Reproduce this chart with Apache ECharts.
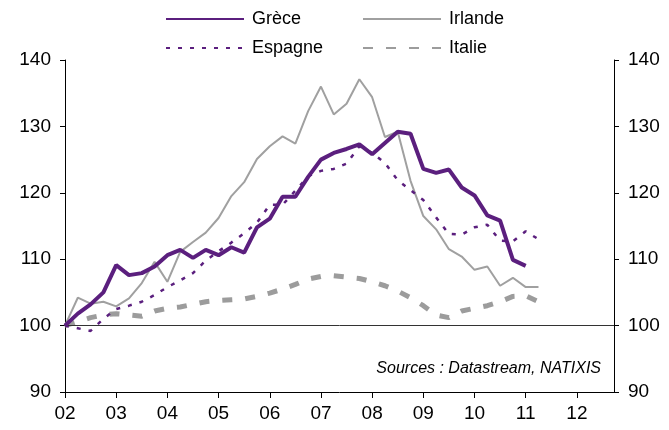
<!DOCTYPE html>
<html>
<head>
<meta charset="utf-8">
<script src="https://cdn.jsdelivr.net/npm/echarts@6/dist/echarts.min.js"></script>
<style>html,body{margin:0;padding:0;background:#fff}#c{width:669px;height:430px}</style>
</head>
<body>
<div id="c"></div>
<script>
// Quarterly index (2002 Q1 = 100), x = quarter number from 2002 Q1
var seriesNames = ['Grèce', 'Irlande', 'Espagne', 'Italie'];
var yearLabels = ['02','03','04','05','06','07','08','09','10','11','12'];
var yTicks = [90, 100, 110, 120, 130, 140];

var greece = [100, 101.8, 103.2, 105.0, 109.1, 107.6, 107.9, 108.9, 110.6, 111.4,
  110.2, 111.4, 110.6, 111.8, 111.0, 114.8, 116.1, 119.4, 119.4, 122.4,
  125.0, 126.0, 126.6, 127.3, 125.8, 127.5, 129.2, 128.9, 123.6, 123.0,
  123.5, 120.8, 119.6, 116.6, 115.8, 109.9, 109.0];
var irlande = [100, 104.2, 103.3, 103.6, 102.9, 104.1, 106.4, 109.6, 106.6, 111.1,
  112.6, 114.0, 116.2, 119.5, 121.6, 125.1, 127.0, 128.5, 127.4, 132.3,
  136.0, 131.8, 133.4, 137.1, 134.4, 128.4, 129.2, 121.8, 116.5, 114.5,
  111.5, 110.4, 108.4, 108.9, 106.0, 107.2, 105.8, 105.8];
var espagne = [100, 99.6, 99.2, 101.0, 102.5, 103.0, 103.6, 104.6, 105.8, 106.8,
  107.9, 109.8, 111.2, 112.5, 113.9, 115.5, 118.2, 118.2, 120.3, 122.5,
  123.3, 123.6, 124.4, 127.0, 126.0, 124.5, 121.9, 120.4, 118.9, 116.3,
  113.8, 113.7, 114.8, 115.2, 112.8, 112.7, 114.2, 113.0];
var italie = [100, 100.6, 101.2, 101.6, 101.8, 101.6, 101.4, 102.2, 102.6, 102.8,
  103.2, 103.6, 103.8, 103.9, 104.0, 104.4, 104.9, 105.5, 106.2, 107.0,
  107.4, 107.5, 107.3, 107.1, 106.6, 106.0, 105.2, 104.2, 103.0, 101.6,
  101.2, 102.2, 102.6, 103.0, 103.6, 104.4, 104.5, 103.6];

function pairs(arr){ return arr.map(function(v,i){ return [i, v]; }); }

var FONT = 'Liberation Sans';
var PURPLE = '#5B1F7E';
var GREY = '#A0A0A0';
var GREY2 = '#9C9C9C';

var chart = echarts.init(document.getElementById('c'), null, {renderer:'canvas'});

function leg(name, left, top){
  return {
    data: [name], left: left, top: top, padding: 0, itemGap: 0,
    itemWidth: 78, itemHeight: 14, selectedMode: false,
    itemStyle: {opacity: 0},
    textStyle: {fontFamily: FONT, fontSize: 18, color: '#000', padding: [0,0,0,3]}
  };
}

var yAxisBase = {
  type: 'value', min: yTicks[0], max: yTicks[yTicks.length-1], interval: 10,
  splitLine: {show: false},
  axisLine: {show: true, lineStyle: {color: '#000', width: 1}},
  axisTick: {show: true, inside: false, length: 5, lineStyle: {color: '#000'}},
  axisLabel: {fontFamily: FONT, fontSize: 19, color: '#000', margin: 14}
};

chart.setOption({
  animation: false,
  backgroundColor: '#fff',
  grid: {left: 65, right: 55, top: 60, bottom: 38, containLabel: false},
  legend: [
    leg('Grèce', 165, 10),
    leg('Irlande', 362, 10),
    leg('Espagne', 165, 39),
    leg('Italie', 362, 39)
  ],
  xAxis: {
    type: 'value', min: 0, max: 42.9, interval: 4,
    splitLine: {show: false},
    axisLine: {onZero: false, lineStyle: {color: '#000', width: 1}},
    axisTick: {show: true, length: 6, lineStyle: {color: '#000'}},
    axisLabel: {
      fontFamily: FONT, fontSize: 19, color: '#000', margin: 12,
      showMaxLabel: false,
      formatter: function(v){ var i = Math.round(v/4); return yearLabels[i] || ''; }
    }
  },
  yAxis: [
    Object.assign({position: 'left'}, yAxisBase),
    Object.assign({position: 'right'}, yAxisBase)
  ],
  series: [
    {
      name: 'Grèce', type: 'line', data: pairs(greece), symbol: 'none', z: 5,
      lineStyle: {color: PURPLE, width: 4}, itemStyle: {color: PURPLE},
      markLine: {
        silent: true, symbol: 'none', label: {show: false},
        lineStyle: {color: '#333', width: 1, type: 'solid'},
        data: [{yAxis: 100}]
      }
    },
    {
      name: 'Irlande', type: 'line', data: pairs(irlande), symbol: 'none', z: 3,
      lineStyle: {color: GREY, width: 2}, itemStyle: {color: GREY}
    },
    {
      name: 'Espagne', type: 'line', data: pairs(espagne), symbol: 'none', z: 4,
      lineStyle: {color: PURPLE, width: 2.5, type: [4, 8]}, itemStyle: {color: PURPLE}
    },
    {
      name: 'Italie', type: 'line', data: pairs(italie), symbol: 'none', z: 2,
      lineStyle: {color: GREY2, width: 5, type: [10, 13]}, itemStyle: {color: GREY2}
    }
  ],
  graphic: [{
    type: 'text', right: 68, top: 361,
    style: {text: 'Sources : Datastream, NATIXIS', font: 'italic 16px "Liberation Sans"', fill: '#000'}
  }]
});
</script>
</body>
</html>
